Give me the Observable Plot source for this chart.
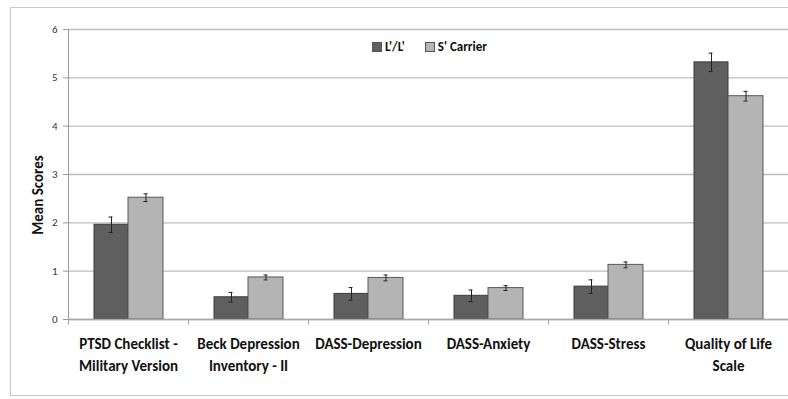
<!DOCTYPE html>
<html>
<head>
<meta charset="utf-8">
<script src="https://cdn.jsdelivr.net/npm/d3@7"></script>
<script src="https://cdn.jsdelivr.net/npm/@observablehq/plot@0.6"></script>
<style>
  html, body { margin: 0; padding: 0; background: #fff; overflow: hidden; }
  #wrap { position: relative; width: 788px; height: 399px; font-family: Calibri, Carlito, Lato, sans-serif; }
  #frame { position: absolute; left: 10px; top: 7px; width: 790px; height: 389px; border: 1px solid #c8c8c8; box-sizing: border-box; }
  #legend { position: absolute; left: 372px; top: 39px; display: flex; align-items: center; font-weight: bold; font-size: 13px; color: #111; }
  .sw { display: inline-block; width: 8px; height: 8px; border: 1px solid #555; margin-right: 3px; }
  #chart { position: absolute; left: 0; top: 0; }
  #ylabel { position: absolute; left: 38px; top: 195px; transform: translate(-50%, -50%) rotate(-90deg); font-weight: bold; font-size: 15px; color: #111; white-space: nowrap; }
</style>
</head>
<body>
<div id="wrap">
  <div id="frame"></div>
  <div id="chart"></div>
  <div id="legend"></div>
  <div id="ylabel"></div>
</div>
<script>
const categories = ["PTSD", "BDI", "DASS-D", "DASS-A", "DASS-S", "QOL"];
const catLabels = ["PTSD Checklist -\nMilitary Version", "Beck Depression\nInventory - II", "DASS-Depression", "DASS-Anxiety", "DASS-Stress", "Quality of Life\nScale"];
const groups = ["L'/L'", "S' Carrier"];
const meansLL = [1.96, 0.46, 0.53, 0.49, 0.68, 5.32];
const errLL   = [0.16, 0.10, 0.13, 0.12, 0.14, 0.19];
const meansS  = [2.52, 0.87, 0.86, 0.65, 1.13, 4.62];
const errS    = [0.08, 0.05, 0.06, 0.05, 0.06, 0.10];
const yTicks = [0, 1, 2, 3, 4, 5, 6];
const yLabel = "Mean Scores";
const colors = ["#5f5f5f", "#b4b4b4"];
const strokes = ["#3c3c3c", "#585858"];

const ll = categories.map((c, i) => ({cat: c, v: meansLL[i], lo: meansLL[i] - errLL[i], hi: meansLL[i] + errLL[i]}));
const ss = categories.map((c, i) => ({cat: c, v: meansS[i], lo: meansS[i] - errS[i], hi: meansS[i] + errS[i]}));
const font = "Calibri, Carlito, Lato, sans-serif";

const chart = Plot.plot({
  width: 788,
  height: 399,
  marginLeft: 68,
  marginRight: 0,
  marginTop: 29,
  marginBottom: 80,
  style: {fontFamily: font, background: "transparent", overflow: "visible"},
  x: {domain: categories, padding: 0, axis: null},
  y: {domain: [0, 6], axis: null},
  marks: [
    Plot.gridY(yTicks, {stroke: "#bdbdbd", strokeOpacity: 1, strokeWidth: 1.3}),
    Plot.axisY(yTicks, {tickSize: 5, tickPadding: 6, stroke: "#9a9a9a", fontSize: 11, color: "#333", tickFormat: d => d}),
    Plot.ruleX(categories.slice(0, 1), {x: d => d, y1: 0, y2: 6, dx: -60, stroke: "#9a9a9a"}),
    Plot.barY(ll, {x: "cat", y: "v", fill: colors[0], stroke: strokes[0], strokeWidth: 1, insetLeft: 26, insetRight: 60}),
    Plot.barY(ss, {x: "cat", y: "v", fill: colors[1], stroke: strokes[1], strokeWidth: 1, insetLeft: 60, insetRight: 25}),
    Plot.ruleX(ll, {x: "cat", y1: "lo", y2: "hi", dx: -17, stroke: "#222", strokeWidth: 1}),
    Plot.ruleX(ss, {x: "cat", y1: "lo", y2: "hi", dx: 17.5, stroke: "#222", strokeWidth: 1}),
    Plot.tickY(ll, {x: "cat", y: "lo", insetLeft: 40.5, insetRight: 75.5, stroke: "#222"}),
    Plot.tickY(ll, {x: "cat", y: "hi", insetLeft: 40.5, insetRight: 75.5, stroke: "#222"}),
    Plot.tickY(ss, {x: "cat", y: "lo", insetLeft: 75.5, insetRight: 40.5, stroke: "#222"}),
    Plot.tickY(ss, {x: "cat", y: "hi", insetLeft: 75.5, insetRight: 40.5, stroke: "#222"}),
    Plot.ruleY([0], {stroke: "#a8a8a8", strokeWidth: 1.3}),
    Plot.ruleX(categories, {x: d => d, y1: 0, y2: -0.12, dx: -60, stroke: "#a8a8a8"}),
    Plot.ruleX(categories.slice(-1), {x: d => d, y1: 0, y2: -0.12, dx: 60, stroke: "#a8a8a8"}),
    Plot.text(categories, {x: d => d, y: 0, text: (d, i) => catLabels[i], dy: 14, lineAnchor: "top", lineHeight: 1.45, fontSize: 15, fontWeight: "bold", fill: "#111"})
  ]
});
document.getElementById("chart").appendChild(chart);
document.getElementById("ylabel").textContent = yLabel;

const legend = document.getElementById("legend");
groups.forEach((g, i) => {
  const item = document.createElement("span");
  item.style.display = "inline-flex";
  item.style.alignItems = "center";
  item.style.marginRight = i === 0 ? "20px" : "0";
  const sw = document.createElement("span");
  sw.className = "sw";
  sw.style.background = colors[i];
  item.appendChild(sw);
  item.appendChild(document.createTextNode(g));
  legend.appendChild(item);
});
</script>
</body>
</html>
